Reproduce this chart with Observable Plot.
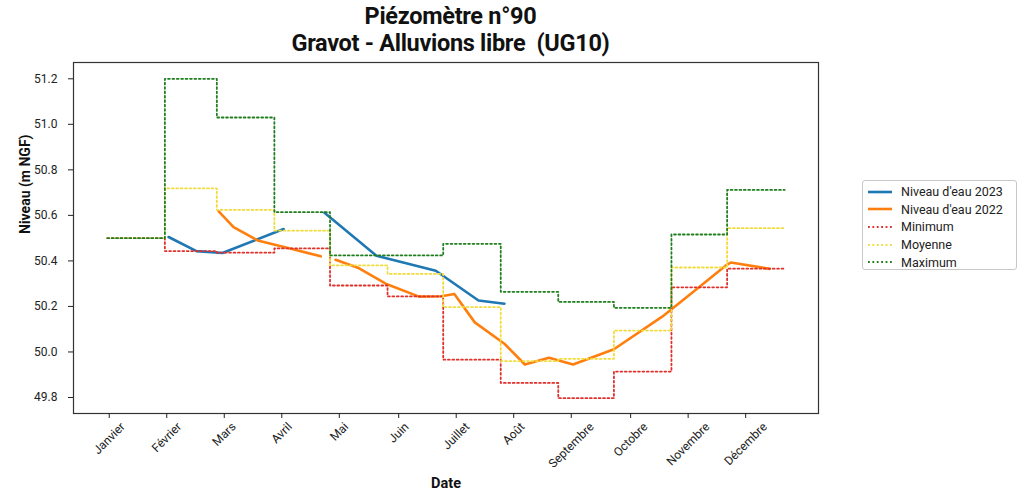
<!DOCTYPE html>
<html><head><meta charset="utf-8">
<script src="https://cdn.jsdelivr.net/npm/d3@7"></script>
<script src="https://cdn.jsdelivr.net/npm/@observablehq/plot@0.6"></script>
<style>
body{margin:0;background:#fff;font-family:Roboto,"DejaVu Sans",sans-serif;}
#wrap{position:relative;width:1033px;height:498px;overflow:hidden;}
#title{position:absolute;left:78px;width:745px;top:3px;text-align:center;font-weight:bold;font-size:23.5px;line-height:27px;color:#111;letter-spacing:-0.3px;}
#legend{position:absolute;left:862px;top:180px;width:155px;height:90px;border:1px solid #c8c8c8;border-radius:3px;box-sizing:border-box;padding:2px 0 0 4px;font-size:12.5px;color:#222;}
#legend .row{display:flex;align-items:center;height:17.6px;}
#legend svg{margin-right:8px;}
</style></head><body>
<div id="wrap"><div id="chart"></div>
<div id="title">Piézomètre n°90<br>Gravot - Alluvions libre&nbsp; (UG10)</div>
<div id="legend"></div></div>
<script>
// ---- data ----
const months = ["Janvier","Février","Mars","Avril","Mai","Juin","Juillet","Août","Septembre","Octobre","Novembre","Décembre"];
const tickDays = [1,32,63,94,125,157,188,219,250,282,313,344];
const monthStartDays = [0,31,59,90,120,151,181,212,243,273,304,334,365];
const yTicks = [49.8,50.0,50.2,50.4,50.6,50.8,51.0,51.2];

const minimum = [50.50,50.443,50.436,50.455,50.292,50.244,49.966,49.864,49.797,49.914,50.284,50.366];
const moyenne = [50.50,50.719,50.624,50.533,50.380,50.343,50.197,49.960,49.970,50.094,50.371,50.544];
const maximum = [50.50,51.200,51.030,50.614,50.424,50.424,50.475,50.264,50.220,50.194,50.516,50.712];

const days2023 = [33,48,62,95,105,117,145,177,200,214];
const niveau2023 = [50.505,50.443,50.435,50.540,null,50.612,50.423,50.357,50.226,50.212];

const days2022 = [60,68,81,99,115,119,123,135,150,168,180,187,198,214,225,238,251,273,299,319,333,336,357];
const niveau2022 = [50.618,50.548,50.490,50.453,50.420,null,50.405,50.370,50.300,50.243,50.245,50.255,50.130,50.036,49.945,49.975,49.945,50.012,50.155,50.285,50.378,50.393,50.365];

// ---- build ----
const C2023 = "#1f77b4", C2022 = "#ff7f0e", CMIN = "#e0302c", CMOY = "#f2dc3c", CMAX = "#1f7f1f";
const stepRows = vals => monthStartDays.map((d,i) => ({d, v: vals[Math.min(i, vals.length-1)]}));
const rows2023 = days2023.map((d,i) => ({d, v: niveau2023[i]}));
const rows2022 = days2022.map((d,i) => ({d, v: niveau2022[i]}));

const ctx = document.createElement("canvas").getContext("2d");
ctx.font = "12px Roboto";
const labelMarks = months.map((m,i) => {
  const w = ctx.measureText(m).width;
  return Plot.text([{d: tickDays[i], m}], {x:"d", text:"m", frameAnchor:"bottom", rotate:-45,
    textAnchor:"middle", lineAnchor:"middle", dy: 7 + (w + 12) * 0.3536, fontSize: 12, fill:"#222"});
});
const dotted = {strokeDasharray:"1.8,2.6", strokeWidth:1.8, curve:"step-after"};

const plot = Plot.plot({
  width: 1033, height: 498,
  marginLeft: 73, marginRight: 215, marginTop: 62, marginBottom: 85,
  style: {fontFamily: "Roboto, 'DejaVu Sans', sans-serif", fontSize: "12px", color: "#222", background: "#fff"},
  x: {type: "linear", domain: [-18.25, 383.25]},
  y: {domain: [49.7297, 51.2716]},
  marks: [
    Plot.line(rows2023, {x:"d", y:"v", stroke:C2023, strokeWidth:2.6}),
    Plot.line(rows2022, {x:"d", y:"v", stroke:C2022, strokeWidth:2.6}),
    Plot.line(stepRows(minimum), {x:"d", y:"v", stroke:CMIN, ...dotted}),
    Plot.line(stepRows(moyenne), {x:"d", y:"v", stroke:CMOY, ...dotted}),
    Plot.line(stepRows(maximum), {x:"d", y:"v", stroke:CMAX, ...dotted}),
    Plot.frame({stroke:"#333", strokeWidth:1.2}),
    Plot.axisY({ticks: yTicks, tickFormat: d3.format(".1f"), tickSize: 5, tickPadding: 11, label: null, fontSize: 12}),
    Plot.axisX({ticks: tickDays, tickFormat: () => "", tickSize: 5, label: null}),
    ...labelMarks,
    Plot.text(["Niveau (m NGF)"], {frameAnchor:"left", rotate:-90, dx:-48, dy:-4, fontWeight:"bold", fontSize:14, fill:"#111"}),
    Plot.text(["Date"], {frameAnchor:"bottom", dy:74, fontWeight:"bold", fontSize:14.5, fill:"#111"})
  ]
});
document.getElementById("chart").appendChild(plot);

// ---- legend ----
const legendItems = [
  ["Niveau d'eau 2023", C2023, null, 2.6],
  ["Niveau d'eau 2022", C2022, null, 2.6],
  ["Minimum", CMIN, "1.8,2.6", 1.8],
  ["Moyenne", CMOY, "1.8,2.6", 1.8],
  ["Maximum", CMAX, "1.8,2.6", 1.8]
];
const lg = d3.select("#legend");
for (const [name, col, dash, sw] of legendItems) {
  const row = lg.append("div").attr("class","row");
  const s = row.append("svg").attr("width",26).attr("height",10);
  s.append("line").attr("x1",1).attr("x2",25).attr("y1",5).attr("y2",5)
    .attr("stroke",col).attr("stroke-width",sw).attr("stroke-dasharray",dash);
  row.append("span").text(name);
}
</script>
</body></html>
